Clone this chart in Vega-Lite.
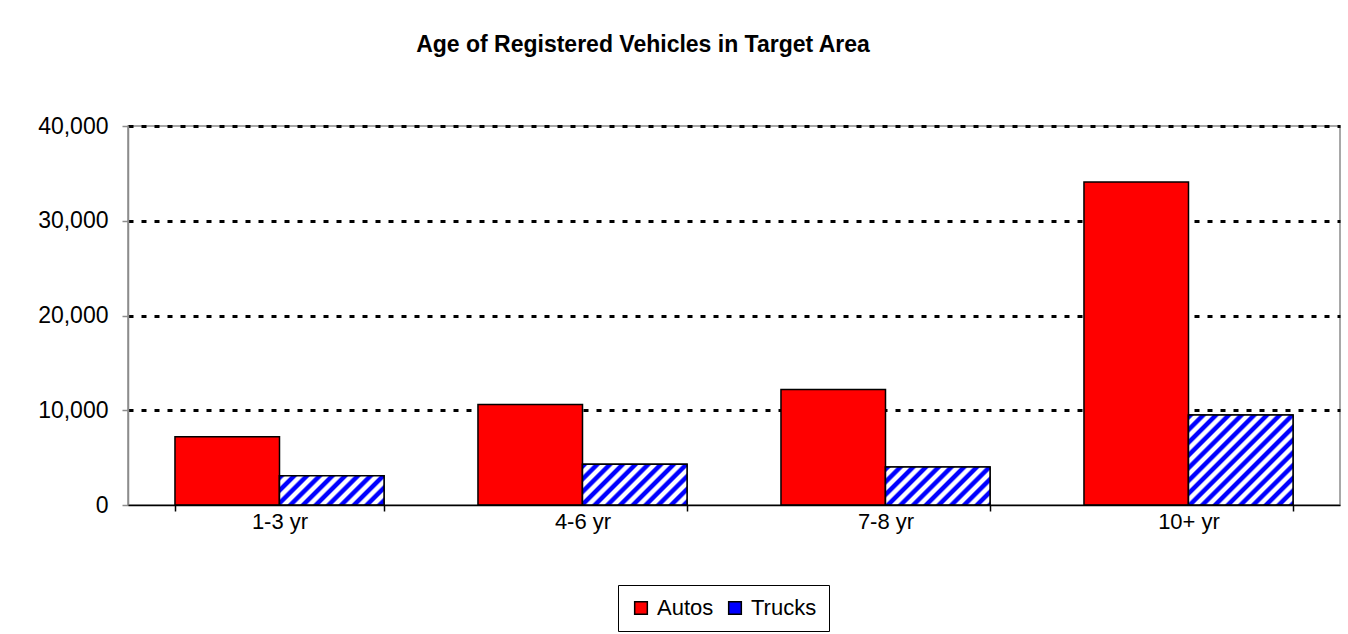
{
  "$schema": "https://vega.github.io/schema/vega-lite/v6.json",
  "autosize": {"type": "none"},
  "width": 1212,
  "height": 379,
  "padding": {"left": 128, "top": 126, "right": 8, "bottom": 129},
  "background": "white",
  "config": {
    "font": "Liberation Sans",
    "view": {"stroke": "#8c8c8c", "strokeWidth": 1.5}
  },
  "title": {
    "text": "Age of Registered Vehicles in Target Area",
    "fontSize": 23,
    "fontWeight": "bold",
    "font": "Liberation Sans",
    "color": "#000000",
    "anchor": "middle",
    "frame": "group",
    "dx": -91,
    "offset": 58
  },
  "data": {
    "values": [
      {"age": "1-3 yr", "type": "Autos", "count": 7200},
      {"age": "1-3 yr", "type": "Trucks", "count": 3100},
      {"age": "4-6 yr", "type": "Autos", "count": 10600},
      {"age": "4-6 yr", "type": "Trucks", "count": 4300},
      {"age": "7-8 yr", "type": "Autos", "count": 12200},
      {"age": "7-8 yr", "type": "Trucks", "count": 4000},
      {"age": "10+ yr", "type": "Autos", "count": 34100},
      {"age": "10+ yr", "type": "Trucks", "count": 9500}
    ]
  },
  "encoding": {
    "x": {
      "field": "age",
      "type": "nominal",
      "sort": ["1-3 yr", "4-6 yr", "7-8 yr", "10+ yr"],
      "scale": {"paddingInner": 0.31, "paddingOuter": 0.155},
      "axis": {
        "title": null,
        "labelAngle": 0,
        "labelFontSize": 22,
        "labelColor": "#000000",
        "labelPadding": 0,
        "domainColor": "#000000",
        "domainWidth": 1.5,
        "tickColor": "#000000",
        "tickWidth": 1.5,
        "tickSize": 6,
        "tickBand": "extent",
        "zindex": 1
      }
    },
    "xOffset": {
      "field": "type",
      "type": "nominal",
      "scale": {"domain": ["Autos", "Trucks"], "paddingInner": 0, "paddingOuter": 0}
    },
    "y": {
      "field": "count",
      "type": "quantitative",
      "scale": {"domain": [0, 40000], "nice": false},
      "axis": {
        "title": null,
        "values": [0, 10000, 20000, 30000, 40000],
        "format": ",d",
        "labelFontSize": 23,
        "labelColor": "#000000",
        "labelPadding": 14,
        "domainColor": "#8c8c8c",
        "domainWidth": 1.5,
        "tickColor": "#8c8c8c",
        "tickWidth": 1.5,
        "tickSize": 6,
        "grid": true,
        "gridColor": "#000000",
        "gridWidth": 3,
        "gridDash": [5, 8],
        "gridOpacity": {"condition": {"test": "datum.value === 0", "value": 0}, "value": 1}
      }
    }
  },
  "layer": [
    {
      "mark": {"type": "bar", "stroke": "#000000", "strokeWidth": 1.5},
      "encoding": {
        "color": {
          "field": "type",
          "type": "nominal",
          "scale": {"domain": ["Autos", "Trucks"], "range": ["#ff0000", "#0000ff"]},
          "legend": {
            "title": null,
            "orient": "none",
            "legendX": 490,
            "legendY": 459,
            "direction": "horizontal",
            "symbolType": "square",
            "symbolSize": 160,
            "symbolStrokeColor": "#000000",
            "symbolStrokeWidth": 1.5,
            "symbolOpacity": 1,
            "labelFontSize": 22,
            "labelColor": "#000000",
            "labelOffset": 5,
            "columnPadding": 10,
            "strokeColor": "#000000",
            "padding": 12
          }
        }
      }
    },
    {
      "transform": [{"filter": "datum.type === 'Trucks' && datum.age === '1-3 yr'"}],
      "mark": {"type": "bar", "stroke": "#000000", "strokeWidth": 1.5, "fill": {"gradient": "linear", "x1": 0, "y1": 0, "x2": 1.881, "y2": 0.529, "stops": [
        {"offset": 0, "color": "#0000ff"}, {"offset": 0.02, "color": "#0000ff"}, {"offset": 0.03, "color": "#ffffff"}, {"offset": 0.05, "color": "#ffffff"},
        {"offset": 0.06, "color": "#0000ff"}, {"offset": 0.08, "color": "#0000ff"}, {"offset": 0.09, "color": "#ffffff"}, {"offset": 0.11, "color": "#ffffff"},
        {"offset": 0.12, "color": "#0000ff"}, {"offset": 0.14, "color": "#0000ff"}, {"offset": 0.15, "color": "#ffffff"}, {"offset": 0.17, "color": "#ffffff"},
        {"offset": 0.18, "color": "#0000ff"}, {"offset": 0.20, "color": "#0000ff"}, {"offset": 0.21, "color": "#ffffff"}, {"offset": 0.23, "color": "#ffffff"},
        {"offset": 0.24, "color": "#0000ff"}, {"offset": 0.26, "color": "#0000ff"}, {"offset": 0.27, "color": "#ffffff"}, {"offset": 0.29, "color": "#ffffff"},
        {"offset": 0.30, "color": "#0000ff"}, {"offset": 0.32, "color": "#0000ff"}, {"offset": 0.33, "color": "#ffffff"}, {"offset": 0.35, "color": "#ffffff"},
        {"offset": 0.36, "color": "#0000ff"}, {"offset": 0.38, "color": "#0000ff"}, {"offset": 0.39, "color": "#ffffff"}, {"offset": 0.41, "color": "#ffffff"},
        {"offset": 0.42, "color": "#0000ff"}, {"offset": 0.44, "color": "#0000ff"}, {"offset": 0.45, "color": "#ffffff"}, {"offset": 0.47, "color": "#ffffff"},
        {"offset": 0.48, "color": "#0000ff"}, {"offset": 0.50, "color": "#0000ff"}, {"offset": 0.51, "color": "#ffffff"}, {"offset": 0.53, "color": "#ffffff"},
        {"offset": 0.54, "color": "#0000ff"}, {"offset": 0.56, "color": "#0000ff"}, {"offset": 0.57, "color": "#ffffff"}, {"offset": 0.59, "color": "#ffffff"},
        {"offset": 0.60, "color": "#0000ff"}, {"offset": 0.62, "color": "#0000ff"}, {"offset": 0.63, "color": "#ffffff"}, {"offset": 0.65, "color": "#ffffff"},
        {"offset": 0.66, "color": "#0000ff"}, {"offset": 0.68, "color": "#0000ff"}, {"offset": 0.69, "color": "#ffffff"}, {"offset": 0.71, "color": "#ffffff"},
        {"offset": 0.72, "color": "#0000ff"}, {"offset": 0.74, "color": "#0000ff"}, {"offset": 0.75, "color": "#ffffff"}, {"offset": 1, "color": "#ffffff"}
      ]}}
    },
    {
      "transform": [{"filter": "datum.type === 'Trucks' && datum.age === '4-6 yr'"}],
      "mark": {"type": "bar", "stroke": "#000000", "strokeWidth": 1.5, "fill": {"gradient": "linear", "x1": 0, "y1": 0, "x2": 1.7625, "y2": 0.6865, "stops": [
        {"offset": 0, "color": "#0000ff"}, {"offset": 0.02, "color": "#0000ff"}, {"offset": 0.03, "color": "#ffffff"}, {"offset": 0.05, "color": "#ffffff"},
        {"offset": 0.06, "color": "#0000ff"}, {"offset": 0.08, "color": "#0000ff"}, {"offset": 0.09, "color": "#ffffff"}, {"offset": 0.11, "color": "#ffffff"},
        {"offset": 0.12, "color": "#0000ff"}, {"offset": 0.14, "color": "#0000ff"}, {"offset": 0.15, "color": "#ffffff"}, {"offset": 0.17, "color": "#ffffff"},
        {"offset": 0.18, "color": "#0000ff"}, {"offset": 0.20, "color": "#0000ff"}, {"offset": 0.21, "color": "#ffffff"}, {"offset": 0.23, "color": "#ffffff"},
        {"offset": 0.24, "color": "#0000ff"}, {"offset": 0.26, "color": "#0000ff"}, {"offset": 0.27, "color": "#ffffff"}, {"offset": 0.29, "color": "#ffffff"},
        {"offset": 0.30, "color": "#0000ff"}, {"offset": 0.32, "color": "#0000ff"}, {"offset": 0.33, "color": "#ffffff"}, {"offset": 0.35, "color": "#ffffff"},
        {"offset": 0.36, "color": "#0000ff"}, {"offset": 0.38, "color": "#0000ff"}, {"offset": 0.39, "color": "#ffffff"}, {"offset": 0.41, "color": "#ffffff"},
        {"offset": 0.42, "color": "#0000ff"}, {"offset": 0.44, "color": "#0000ff"}, {"offset": 0.45, "color": "#ffffff"}, {"offset": 0.47, "color": "#ffffff"},
        {"offset": 0.48, "color": "#0000ff"}, {"offset": 0.50, "color": "#0000ff"}, {"offset": 0.51, "color": "#ffffff"}, {"offset": 0.53, "color": "#ffffff"},
        {"offset": 0.54, "color": "#0000ff"}, {"offset": 0.56, "color": "#0000ff"}, {"offset": 0.57, "color": "#ffffff"}, {"offset": 0.59, "color": "#ffffff"},
        {"offset": 0.60, "color": "#0000ff"}, {"offset": 0.62, "color": "#0000ff"}, {"offset": 0.63, "color": "#ffffff"}, {"offset": 0.65, "color": "#ffffff"},
        {"offset": 0.66, "color": "#0000ff"}, {"offset": 0.68, "color": "#0000ff"}, {"offset": 0.69, "color": "#ffffff"}, {"offset": 0.71, "color": "#ffffff"},
        {"offset": 0.72, "color": "#0000ff"}, {"offset": 0.74, "color": "#0000ff"}, {"offset": 0.75, "color": "#ffffff"}, {"offset": 1, "color": "#ffffff"}
      ]}}
    },
    {
      "transform": [{"filter": "datum.type === 'Trucks' && datum.age === '7-8 yr'"}],
      "mark": {"type": "bar", "stroke": "#000000", "strokeWidth": 1.5, "fill": {"gradient": "linear", "x1": 0, "y1": 0, "x2": 1.7938, "y2": 0.6506, "stops": [
        {"offset": 0, "color": "#0000ff"}, {"offset": 0.02, "color": "#0000ff"}, {"offset": 0.03, "color": "#ffffff"}, {"offset": 0.05, "color": "#ffffff"},
        {"offset": 0.06, "color": "#0000ff"}, {"offset": 0.08, "color": "#0000ff"}, {"offset": 0.09, "color": "#ffffff"}, {"offset": 0.11, "color": "#ffffff"},
        {"offset": 0.12, "color": "#0000ff"}, {"offset": 0.14, "color": "#0000ff"}, {"offset": 0.15, "color": "#ffffff"}, {"offset": 0.17, "color": "#ffffff"},
        {"offset": 0.18, "color": "#0000ff"}, {"offset": 0.20, "color": "#0000ff"}, {"offset": 0.21, "color": "#ffffff"}, {"offset": 0.23, "color": "#ffffff"},
        {"offset": 0.24, "color": "#0000ff"}, {"offset": 0.26, "color": "#0000ff"}, {"offset": 0.27, "color": "#ffffff"}, {"offset": 0.29, "color": "#ffffff"},
        {"offset": 0.30, "color": "#0000ff"}, {"offset": 0.32, "color": "#0000ff"}, {"offset": 0.33, "color": "#ffffff"}, {"offset": 0.35, "color": "#ffffff"},
        {"offset": 0.36, "color": "#0000ff"}, {"offset": 0.38, "color": "#0000ff"}, {"offset": 0.39, "color": "#ffffff"}, {"offset": 0.41, "color": "#ffffff"},
        {"offset": 0.42, "color": "#0000ff"}, {"offset": 0.44, "color": "#0000ff"}, {"offset": 0.45, "color": "#ffffff"}, {"offset": 0.47, "color": "#ffffff"},
        {"offset": 0.48, "color": "#0000ff"}, {"offset": 0.50, "color": "#0000ff"}, {"offset": 0.51, "color": "#ffffff"}, {"offset": 0.53, "color": "#ffffff"},
        {"offset": 0.54, "color": "#0000ff"}, {"offset": 0.56, "color": "#0000ff"}, {"offset": 0.57, "color": "#ffffff"}, {"offset": 0.59, "color": "#ffffff"},
        {"offset": 0.60, "color": "#0000ff"}, {"offset": 0.62, "color": "#0000ff"}, {"offset": 0.63, "color": "#ffffff"}, {"offset": 0.65, "color": "#ffffff"},
        {"offset": 0.66, "color": "#0000ff"}, {"offset": 0.68, "color": "#0000ff"}, {"offset": 0.69, "color": "#ffffff"}, {"offset": 0.71, "color": "#ffffff"},
        {"offset": 0.72, "color": "#0000ff"}, {"offset": 0.74, "color": "#0000ff"}, {"offset": 0.75, "color": "#ffffff"}, {"offset": 1, "color": "#ffffff"}
      ]}}
    },
    {
      "transform": [{"filter": "datum.type === 'Trucks' && datum.age === '10+ yr'"}],
      "mark": {"type": "bar", "stroke": "#000000", "strokeWidth": 1.5, "fill": {"gradient": "linear", "x1": 0, "y1": 0, "x2": 1.1654, "y2": 1.0037, "stops": [
        {"offset": 0, "color": "#0000ff"}, {"offset": 0.02, "color": "#0000ff"}, {"offset": 0.03, "color": "#ffffff"}, {"offset": 0.05, "color": "#ffffff"},
        {"offset": 0.06, "color": "#0000ff"}, {"offset": 0.08, "color": "#0000ff"}, {"offset": 0.09, "color": "#ffffff"}, {"offset": 0.11, "color": "#ffffff"},
        {"offset": 0.12, "color": "#0000ff"}, {"offset": 0.14, "color": "#0000ff"}, {"offset": 0.15, "color": "#ffffff"}, {"offset": 0.17, "color": "#ffffff"},
        {"offset": 0.18, "color": "#0000ff"}, {"offset": 0.20, "color": "#0000ff"}, {"offset": 0.21, "color": "#ffffff"}, {"offset": 0.23, "color": "#ffffff"},
        {"offset": 0.24, "color": "#0000ff"}, {"offset": 0.26, "color": "#0000ff"}, {"offset": 0.27, "color": "#ffffff"}, {"offset": 0.29, "color": "#ffffff"},
        {"offset": 0.30, "color": "#0000ff"}, {"offset": 0.32, "color": "#0000ff"}, {"offset": 0.33, "color": "#ffffff"}, {"offset": 0.35, "color": "#ffffff"},
        {"offset": 0.36, "color": "#0000ff"}, {"offset": 0.38, "color": "#0000ff"}, {"offset": 0.39, "color": "#ffffff"}, {"offset": 0.41, "color": "#ffffff"},
        {"offset": 0.42, "color": "#0000ff"}, {"offset": 0.44, "color": "#0000ff"}, {"offset": 0.45, "color": "#ffffff"}, {"offset": 0.47, "color": "#ffffff"},
        {"offset": 0.48, "color": "#0000ff"}, {"offset": 0.50, "color": "#0000ff"}, {"offset": 0.51, "color": "#ffffff"}, {"offset": 0.53, "color": "#ffffff"},
        {"offset": 0.54, "color": "#0000ff"}, {"offset": 0.56, "color": "#0000ff"}, {"offset": 0.57, "color": "#ffffff"}, {"offset": 0.59, "color": "#ffffff"},
        {"offset": 0.60, "color": "#0000ff"}, {"offset": 0.62, "color": "#0000ff"}, {"offset": 0.63, "color": "#ffffff"}, {"offset": 0.65, "color": "#ffffff"},
        {"offset": 0.66, "color": "#0000ff"}, {"offset": 0.68, "color": "#0000ff"}, {"offset": 0.69, "color": "#ffffff"}, {"offset": 0.71, "color": "#ffffff"},
        {"offset": 0.72, "color": "#0000ff"}, {"offset": 0.74, "color": "#0000ff"}, {"offset": 0.75, "color": "#ffffff"}, {"offset": 0.77, "color": "#ffffff"},
        {"offset": 0.78, "color": "#0000ff"}, {"offset": 0.80, "color": "#0000ff"}, {"offset": 0.81, "color": "#ffffff"}, {"offset": 0.83, "color": "#ffffff"},
        {"offset": 0.84, "color": "#0000ff"}, {"offset": 0.86, "color": "#0000ff"}, {"offset": 0.87, "color": "#ffffff"}, {"offset": 0.89, "color": "#ffffff"},
        {"offset": 0.90, "color": "#0000ff"}, {"offset": 0.92, "color": "#0000ff"}, {"offset": 0.93, "color": "#ffffff"}, {"offset": 0.95, "color": "#ffffff"},
        {"offset": 0.96, "color": "#0000ff"}, {"offset": 0.98, "color": "#0000ff"}, {"offset": 0.99, "color": "#ffffff"}, {"offset": 1, "color": "#ffffff"}
      ]}}
    }
  ]
}
